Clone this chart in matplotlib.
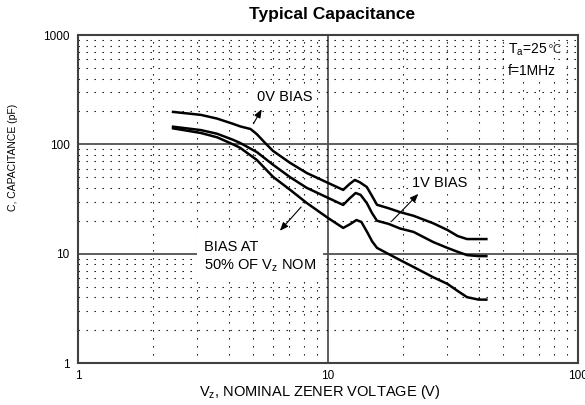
import numpy as np
import matplotlib
matplotlib.use('Agg')
import matplotlib.pyplot as plt
from matplotlib.ticker import NullFormatter

plt.rcParams['font.family'] = ['Liberation Sans', 'DejaVu Sans']
plt.rcParams['mathtext.fontset'] = 'custom'
plt.rcParams['mathtext.rm'] = 'Liberation Sans'
plt.rcParams['mathtext.it'] = 'Liberation Sans'

# nominal zener voltage (V) and capacitance (pF)
v_0v = [2.4, 3.1, 3.6, 4.17, 4.45, 4.9, 5.19, 5.6, 6.03, 7.06, 8.22, 10, 11.5,
        12.2, 12.8, 13.4, 14.3, 15.0, 15.7, 17.5, 19.4, 22, 26.3, 30, 33, 36, 40, 43]
c_0v = [198, 186, 172, 154, 146, 138, 124, 103, 87, 67.6, 54.7, 44.4, 38.3,
        43.4, 47.2, 45, 40.7, 33.7, 28, 26, 24, 22.2, 19, 16.5, 14.5, 13.6, 13.6, 13.6]

v_1v = [2.4, 3.1, 3.6, 4.17, 4.45, 5.19, 6.03, 7.06, 8.22, 10, 11.5,
        12.2, 12.9, 13.5, 14.3, 15.0, 15.7, 17.5, 19.4, 22, 26.3, 30, 33, 36, 40, 43]
c_1v = [145, 135, 125, 110, 103, 85, 65, 50, 40, 32.4, 27.9,
        32, 35.9, 34.5, 29, 23.5, 20, 18.7, 17, 15.8, 12.8, 11.3, 10.4, 9.7, 9.5, 9.5]

v_50 = [2.4, 3.1, 3.6, 4.17, 4.45, 5.19, 6.03, 7.06, 8.22, 10, 11.5,
        12.2, 13.0, 13.6, 14.4, 15.0, 15.7, 17.5, 19.4, 22, 26.3, 30, 33, 36, 40, 43]
c_50 = [140, 127, 116, 100, 93, 72, 50.4, 38.3, 29.1, 21.2, 17.2,
        18.5, 20.3, 19.5, 15.5, 13, 11.3, 9.9, 8.75, 7.55, 6.1, 5.3, 4.56, 4.0, 3.8, 3.8]

x_ticks = [1, 10, 100]
y_ticks = [1, 10, 100, 1000]

fig = plt.figure(figsize=(5.85, 4.05), dpi=100)
ax = fig.add_axes([78/585, 1 - 363/405, 500/585, 328/405])
ax.set_xscale('log')
ax.set_yscale('log')
ax.set_xlim(1, 100)
ax.set_ylim(1, 1000)

ax.set_axisbelow(True)
ax.grid(which='major', color='#505050', linewidth=1.3, linestyle='-')
ax.grid(which='minor', color='black', linewidth=0.8, linestyle=(0, (1.2, 6)))

ax.set_xticks(x_ticks)
ax.set_xticklabels([str(t) for t in x_ticks])
ax.set_yticks(y_ticks)
ax.set_yticklabels([str(t) for t in y_ticks])
ax.xaxis.set_minor_formatter(NullFormatter())
ax.yaxis.set_minor_formatter(NullFormatter())
ax.tick_params(which='both', length=0, labelsize=8.5)
ax.tick_params(axis='y', pad=6)
ax.tick_params(axis='x', pad=5)
for s in ax.spines.values():
    s.set_color('#404040')
    s.set_linewidth(1.5)

for v, c in [(v_0v, c_0v), (v_1v, c_1v), (v_50, c_50)]:
    ax.plot(v, c, color='black', linewidth=1.8, solid_joinstyle='round', zorder=4)

box = dict(facecolor='white', edgecolor='none', pad=3)
arrow = dict(arrowstyle='-|>,head_length=0.5,head_width=0.2', color='black', lw=0.8)

ax.text(5.2, 271, '0V BIAS', fontsize=10.5, ha='left', va='center', bbox=box, zorder=3)
ax.annotate('', xy=(5.5, 220), xytext=(4.97, 147), arrowprops=arrow, zorder=5)

ax.text(21.7, 44.4, '1V BIAS', fontsize=10.5, ha='left', va='center', bbox=box, zorder=3)
ax.annotate('', xy=(23.4, 36.7), xytext=(17.7, 19.1), arrowprops=arrow, zorder=5)

ax.text(3.19, 9.33, 'BIAS AT\n50% OF V$_\\mathregular{z}$ NOM', fontsize=10.5,
        ha='left', va='center', linespacing=1.3,
        bbox=dict(facecolor='white', edgecolor='none', pad=5), zorder=3)
ax.annotate('', xy=(6.31, 15.5), xytext=(7.94, 27.9), arrowprops=arrow, zorder=5)

# temperature / frequency note; the degree sign sits outside mathtext
t_a = ax.text(52.5, 730, 'T$_\\mathregular{a}$=25', fontsize=10,
              ha='left', va='center', bbox=box, zorder=3)
ax.annotate('\u2103', xy=(1, 0.5), xycoords=t_a, xytext=(0.5, 0),
            textcoords='offset points', fontsize=8.5, color='#333333',
            ha='left', va='center', zorder=4)
ax.text(52.5, 470, 'f=1MHz', fontsize=10, ha='left', va='center', bbox=box, zorder=3)

fig.text(332/585, 1 - 15/405, 'Typical Capacitance', fontsize=12.5,
         fontweight='bold', ha='center', va='center')
fig.text(320/585, 1 - 392/405, 'V$_\\mathregular{z}$, NOMINAL ZENER VOLTAGE (V)',
         fontsize=10.5, ha='center', va='center')
fig.text(13/585, 1 - 157/405, 'C, CAPACITANCE (pF)', fontsize=7.5,
         rotation=90, ha='center', va='center')

fig.savefig('out.png', dpi=100)
